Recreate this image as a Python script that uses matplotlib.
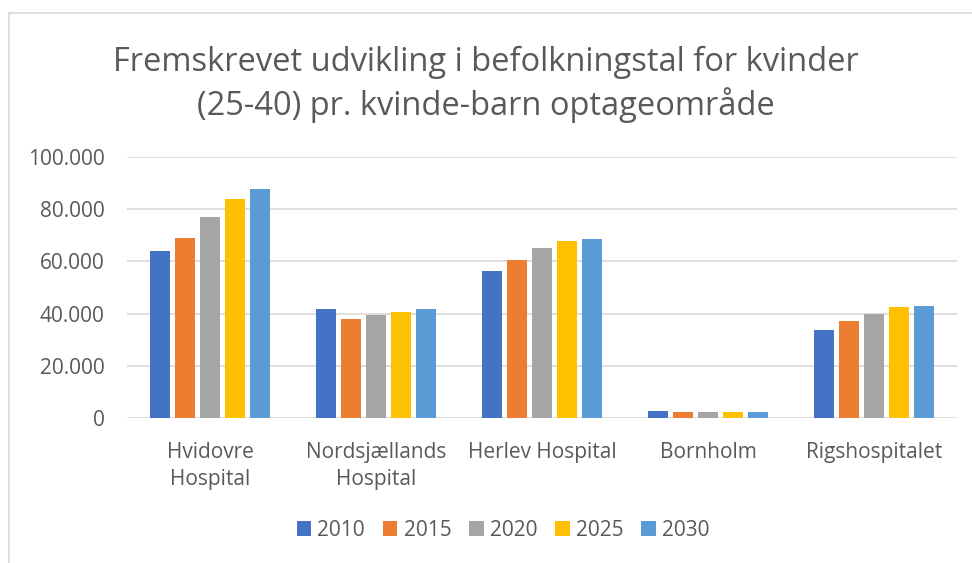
import numpy as np
import matplotlib.pyplot as plt
from matplotlib.ticker import FuncFormatter
from matplotlib.patches import Rectangle

categories = ["Hvidovre\nHospital", "Nordsjællands\nHospital", "Herlev Hospital", "Bornholm", "Rigshospitalet"]
years = ["2010", "2015", "2020", "2025", "2030"]
v2010 = [64000, 41800, 56200, 2700, 33700]
v2015 = [69000, 38000, 60500, 2200, 37000]
v2020 = [77000, 39300, 65000, 2200, 40000]
v2025 = [83900, 40800, 68000, 2200, 42500]
v2030 = [87700, 41700, 68500, 2200, 42800]
series = [v2010, v2015, v2020, v2025, v2030]
colors = ["#4472C4", "#ED7D31", "#A5A5A5", "#FFC000", "#5B9BD5"]

text_col = "#595959"
plt.rcParams["font.family"] = ["Open Sans", "DejaVu Sans"]

fig = plt.figure(figsize=(9.72, 5.63), dpi=100)
W, H = 972, 563
# chart border (cropped at right and bottom like the source)
fig.patches.append(Rectangle((9 / W, -0.5), 1.2, 1.5 - 13 / H, transform=fig.transFigure,
                             fill=False, edgecolor="#D9D9D9", linewidth=1.2))

ax = fig.add_axes([127 / W, 1 - 418 / H, (957 - 127) / W, (418 - 157) / H])
x = np.arange(len(categories))
slot = 0.151
bw = 0.122
for i, (vals, c, y) in enumerate(zip(series, colors, years)):
    ax.bar(x + (i - 2) * slot, vals, width=bw, color=c, label=y, zorder=3)

ax.set_ylim(0, 100000)
ax.set_xlim(-0.5, 4.5)
ax.set_yticks(np.arange(0, 100001, 20000))
ax.yaxis.set_major_formatter(FuncFormatter(lambda v, p: f"{int(v):,}".replace(",", ".")))
ax.grid(axis="y", color="#D9D9D9", linewidth=1.2, zorder=0)
for s in ax.spines.values():
    s.set_visible(False)
ax.tick_params(axis="both", length=0, labelsize=15, colors=text_col)
ax.tick_params(axis="y", pad=16)
ax.set_xticks(x)
ax.set_xticklabels(categories, va="top", linespacing=1.4)
ax.tick_params(axis="x", pad=17)

fig.text(0.5, 1 - 84 / H, "Fremskrevet udvikling i befolkningstal for kvinder\n(25-40) pr. kvinde-barn optageområde",
         ha="center", va="center", fontsize=23.5, color=text_col, linespacing=1.3)

fig.legend(loc="center", bbox_to_anchor=(503 / W, 1 - 530 / H), ncol=5, frameon=False,
           fontsize=15, labelcolor=text_col, handlelength=0.7, handleheight=0.7,
           handletextpad=0.3, columnspacing=0.85)

fig.savefig("out.png", dpi=100)
